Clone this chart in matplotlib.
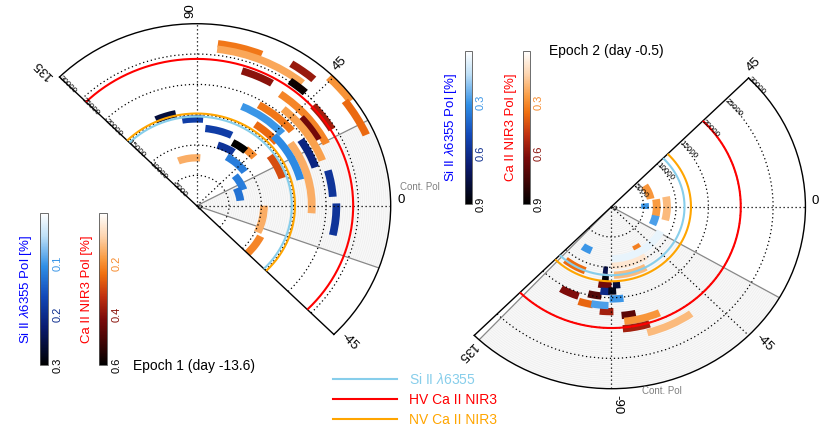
import numpy as np
import matplotlib.pyplot as plt
from matplotlib.colors import LinearSegmentedColormap, Normalize
from matplotlib.cm import ScalarMappable
from matplotlib.lines import Line2D

plt.rcParams['font.family'] = ['Liberation Sans', 'DejaVu Sans']
plt.rcParams['mathtext.fontset'] = 'custom'
plt.rcParams['mathtext.it'] = 'Liberation Sans:italic'
plt.rcParams['mathtext.rm'] = 'Liberation Sans'

# ---------------- data ----------------
rings = [0, 5000, 10000, 15000, 20000, 25000, 30000]

# Epoch 1 (day -13.6): angle range [deg], velocity [km/s], pol [%]
e1_ca_t1 = [68, 51, 49, 60, 48, 36, 24, 27, 31, 30, 21, 40, 40, -4, 19, -25, -45, 42, 86]
e1_ca_t2 = [83, 83, 58, 72.5, 55, 46, 37, 55, 42.5, 42, 50, 60, 56, 35.5, 36, 0, -27, 51, 111]
e1_ca_r = [26900, 26000, 27600, 23300, 25100, 29400, 28700, 22500, 24400, 21700, 20800, 19200,
           16200, 17800, 14000, 10400, 11100, 12000, 7900]
e1_ca_pol = [0.23, 0.16, 0.38, 0.40, 0.58, 0.19, 0.25, 0.21, 0.37, 0.43, 0.17, 0.23,
             0.25, 0.15, 0.29, 0.15, 0.21, 0.20, 0.15]

e1_si_t1 = [42, 15, 19, 4, -13, 102, 86, 65, 57, 50, 37, 20, 7]
e1_si_t2 = [67, 44, 34, 16, 1, 114, 99, 84, 72, 62, 60, 40, 25]
e1_si_r = [17800, 16600, 19400, 21100, 21600, 15500, 14300, 12800, 10500, 11800, 9300, 7700, 6800]
e1_si_pol = [0.10, 0.11, 0.21, 0.19, 0.19, 0.26, 0.18, 0.18, 0.19, 0.30, 0.12, 0.12, 0.13]

e1_vel = {'si': 14700, 'hv': 24200, 'nv': 15200}
e1_cont_pa, e1_cont_width = 4, 48

# Epoch 2 (day -0.5)
e2_ca_t1 = [12, -13, -15, -64, -90, -88, -129, -99, -120, -108, -104, -96, -85, -84, -85, -75]
e2_ca_t2 = [34, 10, 11, -55, -57, -62, -111, -90, -109, -100, -96, -89, -78, -67, -73, -55]
e2_ca_r = [6200, 7000, 8600, 7900, 9700, 11300, 11300, 12900, 15600, 16400, 14800, 17300,
           18000, 19000, 20200, 21500]
e2_ca_pol = [0.28, 0.27, 0.20, 0.33, 0.08, 0.20, 0.37, 0.65, 0.62, 0.38, 0.72, 0.55,
             0.70, 0.28, 0.55, 0.20]

e2_si_t1 = [-4, -25, -124, -90, -97, -97, -97, -89, -92, -91, -101]
e2_si_t2 = [6, -12, -113, -28, -93, -92, -91, -84, -87, -83, -91.6]
e2_si_r = [5200, 7000, 7900, 8600, 10500, 11800, 14000, 12900, 13900, 15200, 16300]
e2_si_pol = [0.30, 0.28, 0.30, 0.05, 0.75, 0.88, 0.62, 0.78, 0.85, 0.30, 0.28]

e2_vel = {'si': 11300, 'hv': 20000, 'nv': 12300}
e2_cont_pa, e2_cont_width = -81.5, 103

# ---------------- colour maps ----------------
si_cmap = LinearSegmentedColormap.from_list('si', [
    (0, '#ffffff'), (0.15, '#bfe0f7'), (0.35, '#2f8fe6'), (0.55, '#1248b8'),
    (0.75, '#0a1a70'), (1, '#000000')])
ca_cmap = LinearSegmentedColormap.from_list('ca', [
    (0, '#ffffff'), (0.15, '#fdd5b0'), (0.3, '#f99a40'), (0.4, '#f07010'),
    (0.55, '#c03010'), (0.7, '#7a0a0a'), (0.85, '#400505'), (1, '#000000')])

line_colors = {'si': '#87ceeb', 'hv': '#ff0000', 'nv': '#ffa500'}
BAR_DR = 1200


def polar_panel(fig, rect, tmin, tmax, grid_angles, label_angles, label_texts,
                rlab_angle, cont_pa, cont_width, vel):
    ax = fig.add_axes(rect, projection='polar')
    ax.set_thetamin(tmin)
    ax.set_thetamax(tmax)
    ax.set_rlim(0, 30000)
    ax.set_aspect('auto')
    ax.set_xticks(np.deg2rad(grid_angles))
    ax.set_xticklabels([])
    ax.set_yticks(rings[1:-1])
    ax.set_yticklabels([])
    ax.tick_params(length=0)
    ax.grid(True, color='k', linestyle=(0, (1, 2.2)), linewidth=0.9)
    for sp in ax.spines.values():
        sp.set_color('k')
        sp.set_linewidth(1.0)

    # continuum polarisation wedge
    lo, hi = cont_pa - cont_width / 2, cont_pa + cont_width / 2
    ax.bar(np.deg2rad(cont_pa), 30000, width=np.deg2rad(cont_width), bottom=0,
           color='#f8f8f8', linewidth=0, zorder=0.5)
    th = np.deg2rad(np.linspace(lo, hi, 80))
    for rr in np.arange(250, 30000, 330):
        ax.plot(th, np.full(th.shape, rr), color='#ebebeb', lw=0.35, zorder=0.6)
    for a in (lo, hi):
        ax.plot([np.deg2rad(a)] * 2, [0, 30000], color='#888888', lw=0.9, zorder=0.7)
    ax.text(np.deg2rad(cont_pa), 31500, 'Cont. Pol', color='#808080', fontsize=7,
            ha='left', va='bottom', clip_on=False)

    # reference velocity circles
    tt = np.deg2rad(np.linspace(tmin, tmax, 300))
    for key in ('si', 'nv', 'hv'):
        ax.plot(tt, np.full(tt.shape, vel[key]), color=line_colors[key], lw=1.5, zorder=3)

    # angle labels
    for a, s in zip(label_angles, label_texts):
        ax.text(np.deg2rad(a), 31000, s, rotation=a, rotation_mode='anchor',
                ha='left', va='bottom', fontsize=9.5, clip_on=False)
    # velocity labels
    for r in rings:
        ax.text(np.deg2rad(rlab_angle), r, str(r), rotation=-45, rotation_mode='anchor',
                ha='left', va='center', fontsize=5.8, clip_on=False)
    return ax


def draw_bars(ax, t1, t2, r, pol, cmap, vmax):
    t1 = np.deg2rad(t1)
    t2 = np.deg2rad(t2)
    colors = cmap(np.asarray(pol) / vmax)
    ax.bar((t1 + t2) / 2, BAR_DR, width=t2 - t1, bottom=np.asarray(r) - BAR_DR / 2,
           color=colors, linewidth=0, zorder=1.2)


def add_cbar(fig, rect, cmap, vmax, ticks, label, label_color):
    cax = fig.add_axes(rect)
    sm = ScalarMappable(norm=Normalize(0, vmax), cmap=cmap)
    cb = fig.colorbar(sm, cax=cax)
    cax.invert_yaxis()
    cb.set_ticks(ticks)
    cb.set_ticklabels([f'{t:.1f}' for t in ticks])
    cax.tick_params(length=0, pad=3, labelsize=8, labelrotation=90)
    for t, lbl in zip(ticks, cax.get_yticklabels()):
        lbl.set_color(cmap(t / vmax))
        lbl.set_va('center')
    cax.yaxis.set_label_position('left')
    cax.set_ylabel(label, color=label_color, fontsize=9.5, labelpad=4)
    cb.outline.set_edgecolor('#555555')
    cb.outline.set_linewidth(0.6)
    return cb


fig = plt.figure(figsize=(8.3, 4.36), dpi=100)

ax1 = polar_panel(fig, [0.0717, 0.233, 0.399, 0.7126], -45, 135, [0, 45, 90],
                  [0, 45, 90, 135, -45], ['0', '45', '90', '135', '-45'], 135,
                  e1_cont_pa, e1_cont_width, e1_vel)
draw_bars(ax1, e1_ca_t1, e1_ca_t2, e1_ca_r, e1_ca_pol, ca_cmap, 0.6)
draw_bars(ax1, e1_si_t1, e1_si_t2, e1_si_r, e1_si_pol, si_cmap, 0.3)

ax2 = polar_panel(fig, [0.5714, 0.1085, 0.399, 0.7126], -135, 45, [0, -45, -90],
                  [45, 0, -45, -90, -135], ['45', '0', '-45', '-90', '135'], 45,
                  e2_cont_pa, e2_cont_width, e2_vel)
draw_bars(ax2, e2_ca_t1, e2_ca_t2, e2_ca_r, e2_ca_pol, ca_cmap, 0.9)
draw_bars(ax2, e2_si_t1, e2_si_t2, e2_si_r, e2_si_pol, si_cmap, 0.9)

si_label = r'Si II $\mathit{\lambda}$6355 Pol [%]'
ca_label = 'Ca II NIR3 Pol [%]'
add_cbar(fig, [0.0482, 0.1628, 0.0096, 0.3486], si_cmap, 0.3, [0.1, 0.2, 0.3], si_label, 'blue')
add_cbar(fig, [0.1193, 0.1628, 0.0096, 0.3486], ca_cmap, 0.6, [0.2, 0.4, 0.6], ca_label, 'red')
add_cbar(fig, [0.5602, 0.5321, 0.0084, 0.3509], si_cmap, 0.9, [0.3, 0.6, 0.9], si_label, 'blue')
add_cbar(fig, [0.6301, 0.5321, 0.0084, 0.3509], ca_cmap, 0.9, [0.3, 0.6, 0.9], ca_label, 'red')

fig.text(133 / 830, 1 - 366 / 436, 'Epoch 1 (day -13.6)', fontsize=10, va='center', ha='left')
fig.text(549 / 830, 1 - 51 / 436, 'Epoch 2 (day -0.5)', fontsize=10, va='center', ha='left')

handles = [Line2D([], [], color=line_colors[k], lw=1.5) for k in ('si', 'hv', 'nv')]
labels = [r'Si II $\mathit{\lambda}$6355', 'HV Ca II NIR3', 'NV Ca II NIR3']
fig.legend(handles, labels, loc='upper left', bbox_to_anchor=(333 / 830, 1 - 372 / 436),
           frameon=False, fontsize=10, handlelength=4.6, handletextpad=0.9,
           labelspacing=0.42, borderpad=0, borderaxespad=0, labelcolor='linecolor')

fig.savefig('out.png', dpi=100)
